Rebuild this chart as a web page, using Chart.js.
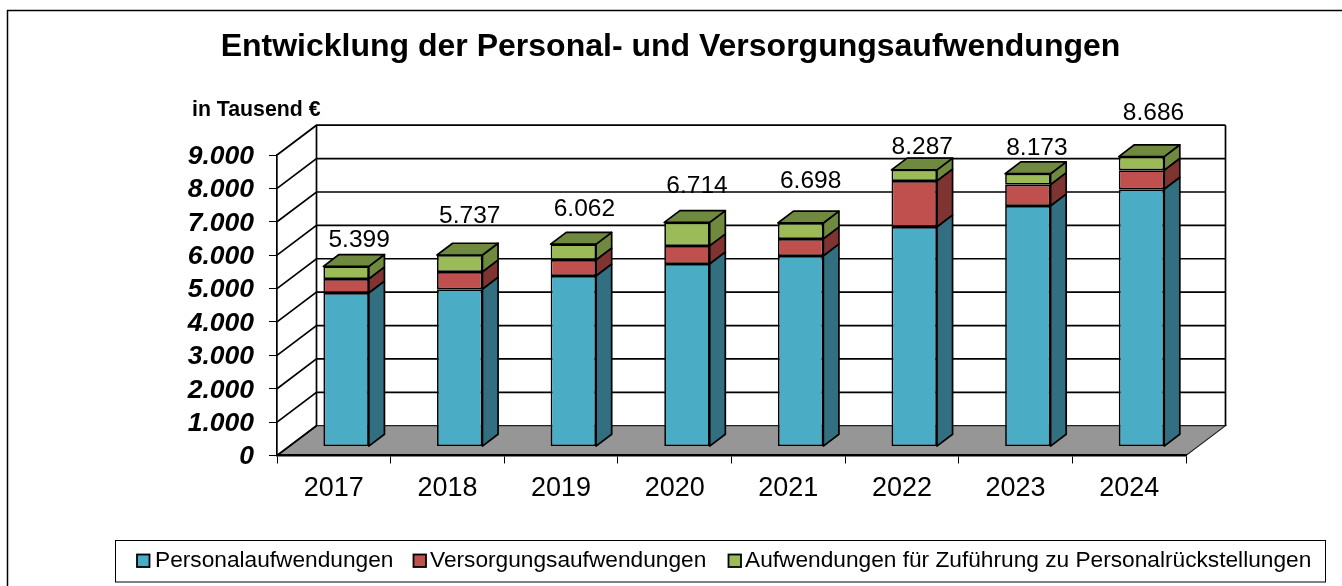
<!DOCTYPE html>
<html lang="de">
<head>
<meta charset="utf-8">
<title>Entwicklung der Personal- und Versorgungsaufwendungen</title>
<style>html,body{margin:0;padding:0;background:#fff}canvas{display:block}</style>
<script src="https://cdn.jsdelivr.net/npm/chart.js@4"></script>
</head>
<body>
<div style="width:1342px;height:586px"><canvas id="c" width="1342" height="586"></canvas></div>
<script>
const categories = ['2017','2018','2019','2020','2021','2022','2023','2024'];
const personal = [4600,4713,5110,5470,5710,6578,7207,7707];
const versorgung = [420,517,480,540,509,1377,637,568];
const zufuehrung = [379,507,472,704,479,332,329,411];
const totals = [5399,5737,6062,6714,6698,8287,8173,8686];
const seriesNames = ['Personalaufwendungen','Versorgungsaufwendungen','Aufwendungen für Zuführung zu Personalrückstellungen'];
const yTicks = [0,1000,2000,3000,4000,5000,6000,7000,8000,9000];

// layout of the pseudo-3D box and hand placed annotations
const FONT = '"Liberation Sans", Arial, sans-serif';
const WALL = {dx: 39.5, dy: 29.8};
const BAR = {dx: 15.6, dy: 11.8, ox: 12.3, oy: 8.9};
const labelDx = [13,10,11,10,10,8,9,12];
const labelLift = [26,39,35,36,42,23,25,43];
const fills = ['#4BACC6','#C0504D','#9BBB59'];
const sides = ['#326F80','#7F3432','#6F8A3E'];
const legendLayout = {box:[115,540,1210,41.5], swatchX:[137,413.5,728.5], textX:[155,430,745]};

const fmt = v => String(v).replace(/\B(?=(\d{3})+$)/g,'.');

const box3d = {
  id:'box3d',
  beforeDraw(chart){
    const {ctx} = chart;
    ctx.save();
    ctx.strokeStyle='#000';
    ctx.beginPath(); ctx.moveTo(7.5,586); ctx.lineTo(7.5,10.5); ctx.lineTo(1342,10.5);
    ctx.lineWidth=1.5; ctx.stroke();
    ctx.restore();
  },
  beforeDatasetsDraw(chart){
    const {ctx,scales:{y},chartArea:a} = chart;
    const yb=y.getPixelForValue(0);
    ctx.save();
    // floor
    ctx.fillStyle='#969696'; ctx.strokeStyle='#222'; ctx.lineWidth=1.2;
    ctx.beginPath();
    ctx.moveTo(a.left,yb); ctx.lineTo(a.right,yb);
    ctx.lineTo(a.right+WALL.dx,yb-WALL.dy); ctx.lineTo(a.left+WALL.dx,yb-WALL.dy);
    ctx.closePath(); ctx.fill(); ctx.stroke();
    // grid on side wall and back wall
    ctx.strokeStyle='#000'; ctx.lineWidth=1.7;
    yTicks.forEach(v=>{
      const py=y.getPixelForValue(v);
      ctx.beginPath();
      ctx.moveTo(a.left,py); ctx.lineTo(a.left+WALL.dx,py-WALL.dy);
      if(v>0) ctx.lineTo(a.right+WALL.dx,py-WALL.dy);
      ctx.stroke();
    });
    const top=y.getPixelForValue(9000);
    ctx.beginPath();
    ctx.moveTo(a.left+WALL.dx,top-WALL.dy); ctx.lineTo(a.left+WALL.dx,yb-WALL.dy);
    ctx.moveTo(a.right+WALL.dx,top-WALL.dy); ctx.lineTo(a.right+WALL.dx,yb-WALL.dy);
    ctx.stroke();
    ctx.restore();
  },
  beforeDatasetDraw(chart,args){
    const ctx=chart.ctx, i=args.index, last=chart.data.datasets.length-1;
    ctx.save();
    ctx.translate(BAR.ox,-BAR.oy);
    ctx.lineWidth=1.7; ctx.strokeStyle='#000'; ctx.lineJoin='round';
    args.meta.data.forEach(el=>{
      const p=el.getProps(['x','y','base','width'],true);
      const r=p.x+p.width/2, l=p.x-p.width/2;
      ctx.fillStyle=sides[i];
      ctx.beginPath();
      ctx.moveTo(r,p.y); ctx.lineTo(r+BAR.dx,p.y-BAR.dy);
      ctx.lineTo(r+BAR.dx,p.base-BAR.dy); ctx.lineTo(r,p.base);
      ctx.closePath(); ctx.fill(); ctx.stroke();
      if(i===last){
        ctx.beginPath();
        ctx.moveTo(l,p.y); ctx.lineTo(l+BAR.dx,p.y-BAR.dy);
        ctx.lineTo(r+BAR.dx,p.y-BAR.dy); ctx.lineTo(r,p.y);
        ctx.closePath(); ctx.fill(); ctx.stroke();
      }
    });
  },
  afterDatasetDraw(chart){ chart.ctx.restore(); },
  afterDatasetsDraw(chart){
    const {ctx}=chart;
    const top=chart.getDatasetMeta(chart.data.datasets.length-1);
    ctx.save();
    ctx.fillStyle='#000'; ctx.textBaseline='middle'; ctx.textAlign='center';
    ctx.font='24.5px '+FONT;
    top.data.forEach((el,i)=>{
      ctx.fillText(fmt(totals[i]), el.x+BAR.ox+labelDx[i], el.y-BAR.oy-labelLift[i]);
    });
    // unit caption
    ctx.textAlign='left'; ctx.font='bold 21.3px '+FONT;
    ctx.fillText('in Tausend €',192,110);
    // legend
    const L=legendLayout;
    ctx.strokeStyle='#000'; ctx.lineWidth=1;
    ctx.strokeRect(L.box[0]+.5,L.box[1]+.5,L.box[2],L.box[3]);
    ctx.font='22.7px '+FONT;
    seriesNames.forEach((n,i)=>{
      ctx.fillStyle=fills[i]; ctx.lineWidth=1.8;
      ctx.fillRect(L.swatchX[i],554.5,12.5,12.5);
      ctx.strokeRect(L.swatchX[i],554.5,12.5,12.5);
      ctx.fillStyle='#000';
      ctx.fillText(n,L.textX[i],561);
    });
    ctx.restore();
  }
};

const mk=(label,data,i)=>({label,data,backgroundColor:fills[i],borderColor:'#000',borderWidth:1.7,borderSkipped:false,barPercentage:0.4,categoryPercentage:1});

new Chart(document.getElementById('c'),{
  type:'bar',
  data:{labels:categories,datasets:[mk(seriesNames[0],personal,0),mk(seriesNames[1],versorgung,1),mk(seriesNames[2],zufuehrung,2)]},
  plugins:[box3d],
  options:{
    responsive:false,animation:false,
    layout:{padding:{left:155,right:156,top:0,bottom:80.5}},
    plugins:{
      legend:{display:false},
      tooltip:{enabled:false},
      title:{display:true,text:'Entwicklung der Personal- und Versorgungsaufwendungen',
        color:'#000',font:{family:FONT,size:32,weight:'bold',lineHeight:1.2},padding:{top:28,bottom:88.6}}
    },
    scales:{
      x:{stacked:true,offset:true,
        afterFit(s){s.height=50;},
        grid:{drawOnChartArea:false,drawTicks:true,tickLength:8,color:'#000',offset:true,lineWidth:1},
        border:{display:true,color:'#000',width:2.5,z:1},
        ticks:{color:'#000',font:{family:FONT,size:27},padding:9,maxRotation:0}},
      y:{stacked:true,min:0,max:9000,
        afterFit(s){s.width=122;},
        afterBuildTicks(s){s.ticks=yTicks.map(v=>({value:v}));},
        grid:{drawOnChartArea:false,drawTicks:true,tickLength:8,color:'#000',lineWidth:1},
        border:{display:true,color:'#000',width:1.7,z:1},
        ticks:{color:'#000',padding:15,autoSkip:false,labelOffset:1.5,font:{family:FONT,size:26.5,weight:'bold',style:'italic'},callback:v=>fmt(v)}}
    }
  }
});
</script>
</body>
</html>
